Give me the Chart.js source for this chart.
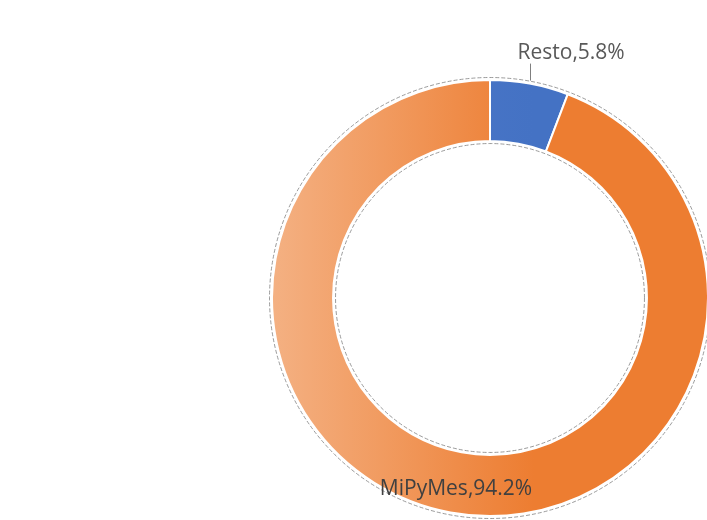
<!DOCTYPE html>
<html>
<head>
<meta charset="utf-8">
<script src="https://cdn.jsdelivr.net/npm/chart.js@4/dist/chart.umd.min.js"></script>
<style>
  html, body { margin: 0; padding: 0; background: #fff; overflow: hidden; }
  #wrap { position: relative; width: 720px; height: 520px; }
</style>
</head>
<body>
<div id="wrap"><canvas id="donut"></canvas></div>
<script>
/* share of firms, percent */
const categories = ['Resto', 'MiPyMes'];
const shares = [5.8, 94.2];
const sliceColors = ['#4472C4', '#ED7D31'];
const sliceLight = ['#4F7ACA', '#F4B183'];

function sliceFill(ctx) {
  const chart = ctx.chart;
  const area = chart.chartArea;
  if (!area) return sliceColors[ctx.dataIndex];
  const g = chart.ctx.createLinearGradient(area.left, 0, area.left + area.width * 0.6, 0);
  g.addColorStop(0, sliceLight[ctx.dataIndex]);
  g.addColorStop(1, sliceColors[ctx.dataIndex]);
  return g;
}

// thin dashed halo around the ring, like the office export
const ringOutline = {
  id: 'ringOutline',
  afterDatasetsDraw(chart) {
    const arc = chart.getDatasetMeta(0).data[0];
    if (!arc) return;
    const c = chart.ctx;
    c.save();
    c.strokeStyle = 'rgba(130,130,130,0.8)';
    c.lineWidth = 1;
    c.setLineDash([4, 2]);
    [arc.outerRadius + 2.5, arc.innerRadius - 2.5].forEach((r) => {
      c.beginPath();
      c.arc(arc.x, arc.y, r, 0, Math.PI * 2);
      c.stroke();
    });
    c.restore();
  }
};

const sliceLabels = {
  id: 'sliceLabels',
  afterDraw(chart) {
    const meta = chart.getDatasetMeta(0);
    const c = chart.ctx;
    c.save();
    c.font = '21px "Open Sans", "Noto Sans", sans-serif';

    // small slice: label outside with a leader line
    const a0 = meta.data[0];
    const mid = (a0.startAngle + a0.endAngle) / 2;
    const px = a0.x + Math.cos(mid) * a0.outerRadius;
    const py = a0.y + Math.sin(mid) * a0.outerRadius;
    c.strokeStyle = '#7f7f7f';
    c.lineWidth = 1;
    c.beginPath();
    c.moveTo(Math.round(px) + 0.5, py - 3);
    c.lineTo(Math.round(px) + 0.5, py - 20);
    c.stroke();
    c.fillStyle = '#595959';
    c.textAlign = 'left';
    c.textBaseline = 'alphabetic';
    c.fillText(categories[0] + ',' + shares[0].toFixed(1) + '%', px - 12, py - 25);

    // big slice: label on the ring
    const a1 = meta.data[1];
    const p = a1.tooltipPosition();
    c.fillStyle = '#404040';
    c.textAlign = 'center';
    c.textBaseline = 'middle';
    c.fillText(categories[1] + ',' + shares[1].toFixed(1) + '%', p.x, p.y + 7);
    c.restore();
  }
};

new Chart(document.getElementById('donut').getContext('2d'), {
  type: 'doughnut',
  data: {
    labels: categories,
    datasets: [
      {
        data: shares,
        backgroundColor: sliceFill,
        borderColor: '#ffffff',
        borderWidth: 2
      }
    ]
  },
  options: {
    responsive: true,
    maintainAspectRatio: false,
    animation: false,
    cutout: '72%',
    layout: { padding: { left: 270, right: 10, top: 79, bottom: 3 } },
    plugins: { legend: { display: false }, tooltip: { enabled: false } }
  },
  plugins: [ringOutline, sliceLabels]
});
</script>
</body>
</html>
